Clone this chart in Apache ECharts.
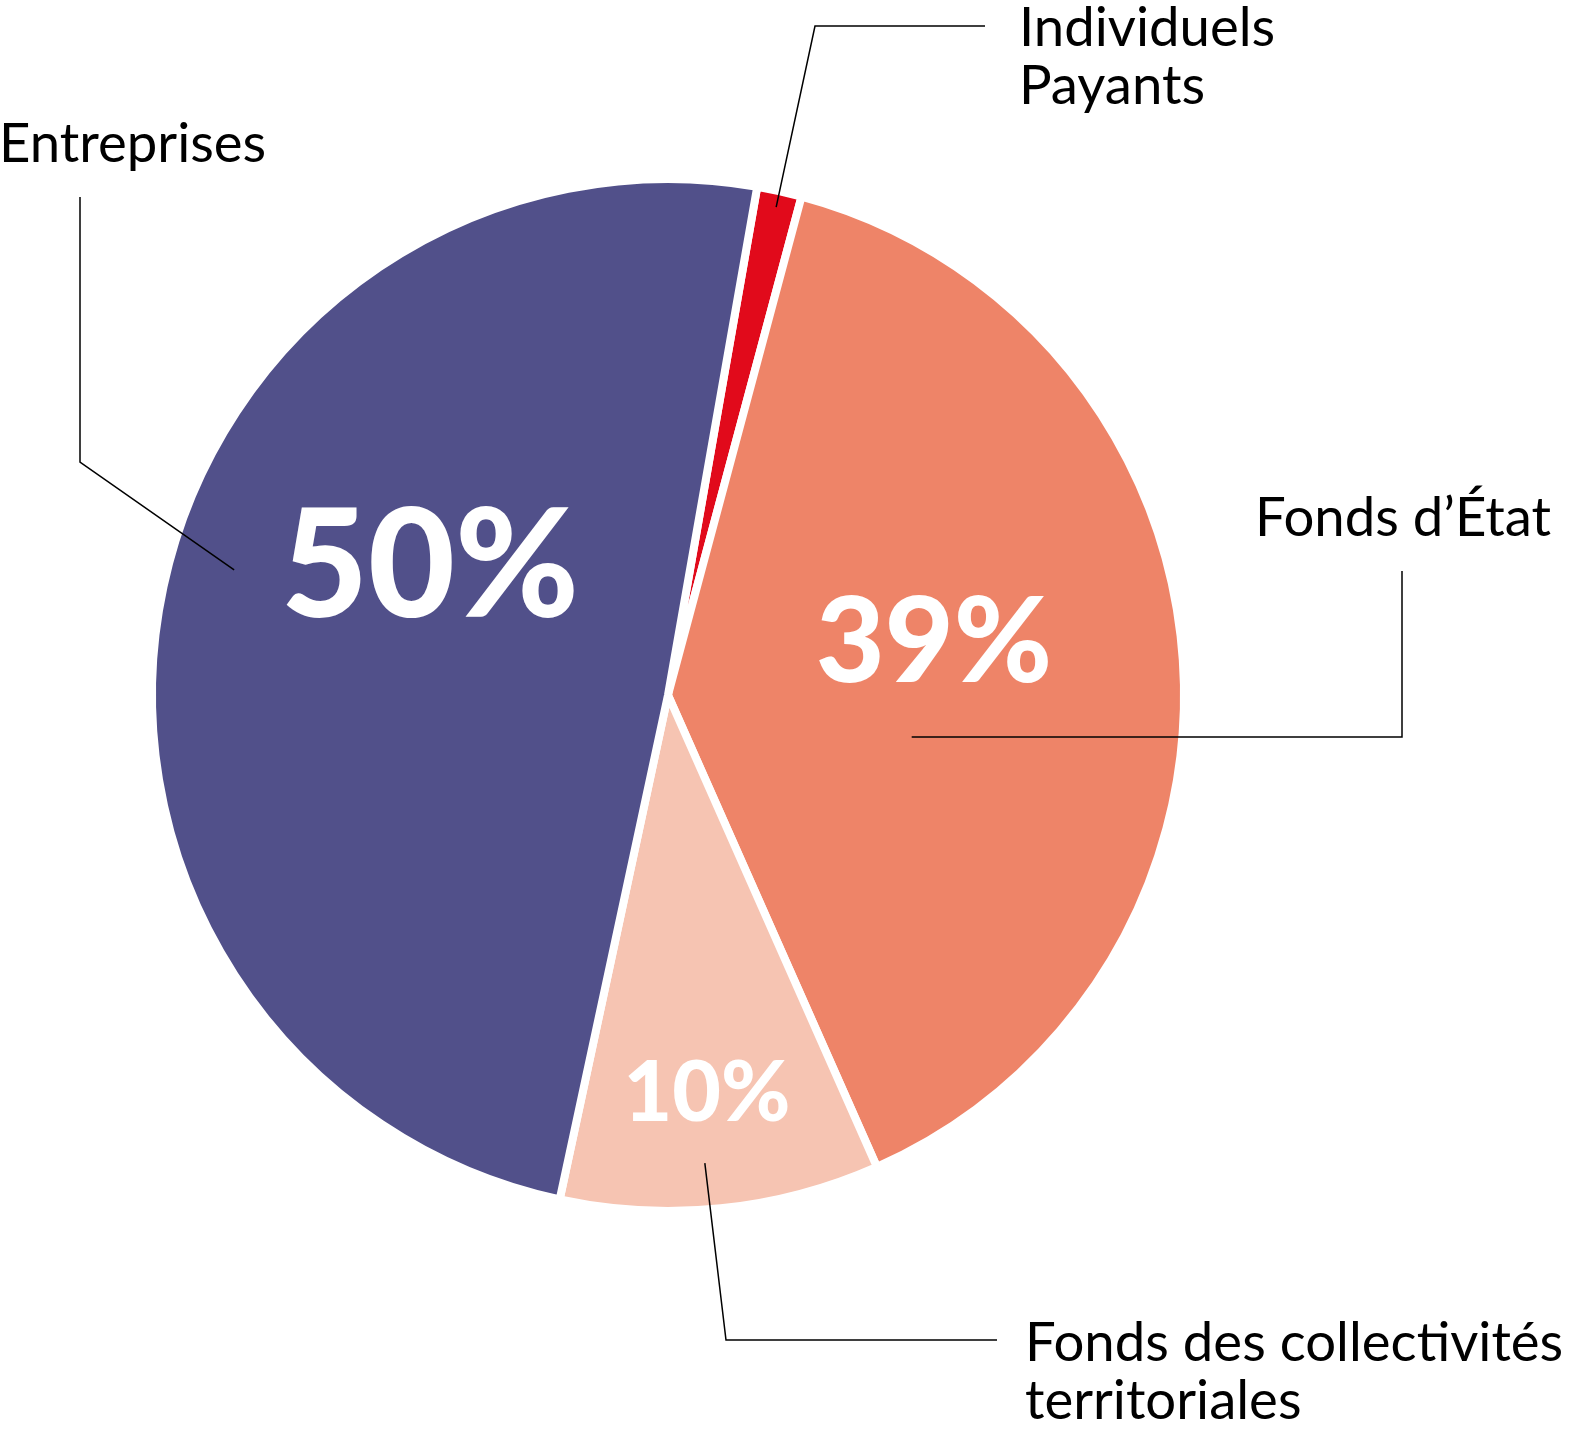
<!DOCTYPE html>
<html>
<head>
<meta charset="utf-8">
<script src="https://cdn.jsdelivr.net/npm/echarts@6/dist/echarts.min.js"></script>
<style>
html,body{margin:0;padding:0;background:#ffffff;}
#chart{width:1569px;height:1432px;}
</style>
</head>
<body>
<div id="chart"></div>
<script>
// ---- data ----
const categories = ['Individuels\nPayants', 'Fonds d\u2019\u00C9tat', 'Fonds des collectivit\u00E9s\nterritoriales', 'Entreprises'];
const shares = [1.4, 39.2, 10.0, 49.4];           // share of the circle, in %
const shownPercents = [null, 39, 10, 50];          // printed percentages
const colors = ['#e10a1b', '#ee8468', '#f6c4b2', '#51508a'];

// ---- layout / style ----
const CX = 668, CY = 695, R = 512, GAP = 8;
const START = 90 - 9.96;
const FONT = 'Lato, "Noto Sans", sans-serif';

// inner percentage labels: centre + font size, by category index
const pctLayout = [
  null,
  { x: 934, y: 644, size: 119 },
  { x: 707, y: 1094, size: 84 },
  { x: 430, y: 569, size: 150 }
];
// outer names: anchor inside the slice (angle clockwise from top, radius fraction), elbow/end points, text position
const leaderLayout = [
  { angle: 12.5,  frac: 0.976, pts: [[815, 26], [985, 26]],     tx: 1019, ty: 57 },
  { angle: 99.8,  frac: 0.483, pts: [[1402, 737], [1402, 571]], tx: 1255, ty: 518 },
  { angle: 175.5, frac: 0.917, pts: [[726, 1340], [997, 1340]], tx: 1025, ty: 1372 },
  { angle: 286.1, frac: 0.882, pts: [[80, 462], [80, 197]],     tx: -1,   ty: 144 }
];

function polar(angleDeg, frac) {
  const a = angleDeg * Math.PI / 180;
  return [CX + R * frac * Math.sin(a), CY - R * frac * Math.cos(a)];
}

const chart = echarts.init(document.getElementById('chart'), null, { renderer: 'canvas' });

const option = {
  backgroundColor: '#ffffff',
  animation: false,
  series: [
    {
      type: 'pie',
      z: 2,
      center: [CX, CY],
      radius: R + GAP / 2,
      startAngle: START,
      clockwise: true,
      silent: true,
      avoidLabelOverlap: false,
      emphasis: { disabled: true },
      data: categories.map((n, i) => ({ name: n, value: shares[i], itemStyle: { color: colors[i] } })),
      itemStyle: { borderColor: '#ffffff', borderWidth: GAP },
      label: {
        show: true,
        position: 'inside',
        color: '#ffffff',
        fontFamily: FONT,
        fontWeight: 900,
        fontSize: 100,
        formatter: p => shownPercents[p.dataIndex] == null ? '' : shownPercents[p.dataIndex] + '%'
      },
      labelLine: { show: false },
      labelLayout: p => {
        const L = pctLayout[p.dataIndex];
        if (!L) return {};
        return { x: L.x, y: L.y, align: 'center', verticalAlign: 'middle', fontSize: L.size };
      }
    },
    {
      type: 'pie',
      z: 5,
      center: [CX, CY],
      radius: R + GAP / 2,
      startAngle: START,
      clockwise: true,
      silent: true,
      avoidLabelOverlap: false,
      emphasis: { disabled: true },
      data: categories.map((n, i) => ({ name: n, value: shares[i] })),
      itemStyle: { color: 'rgba(0,0,0,0)', borderWidth: 0 },
      label: {
        show: true,
        position: 'outside',
        color: '#000000',
        fontFamily: FONT,
        fontWeight: 400,
        fontSize: 54.5,
        lineHeight: 58,
        formatter: '{b}'
      },
      labelLine: {
        show: true,
        showAbove: true,
        length: 10,
        length2: 10,
        smooth: false,
        lineStyle: { color: '#000000', width: 1.5 }
      },
      labelLayout: p => {
        const L = leaderLayout[p.dataIndex];
        const s = polar(L.angle, L.frac);
        return {
          x: L.tx, y: L.ty, align: 'left', verticalAlign: 'middle',
          labelLinePoints: [s, L.pts[0], L.pts[1]]
        };
      }
    }
  ]
};
chart.setOption(option);
</script>
</body>
</html>
